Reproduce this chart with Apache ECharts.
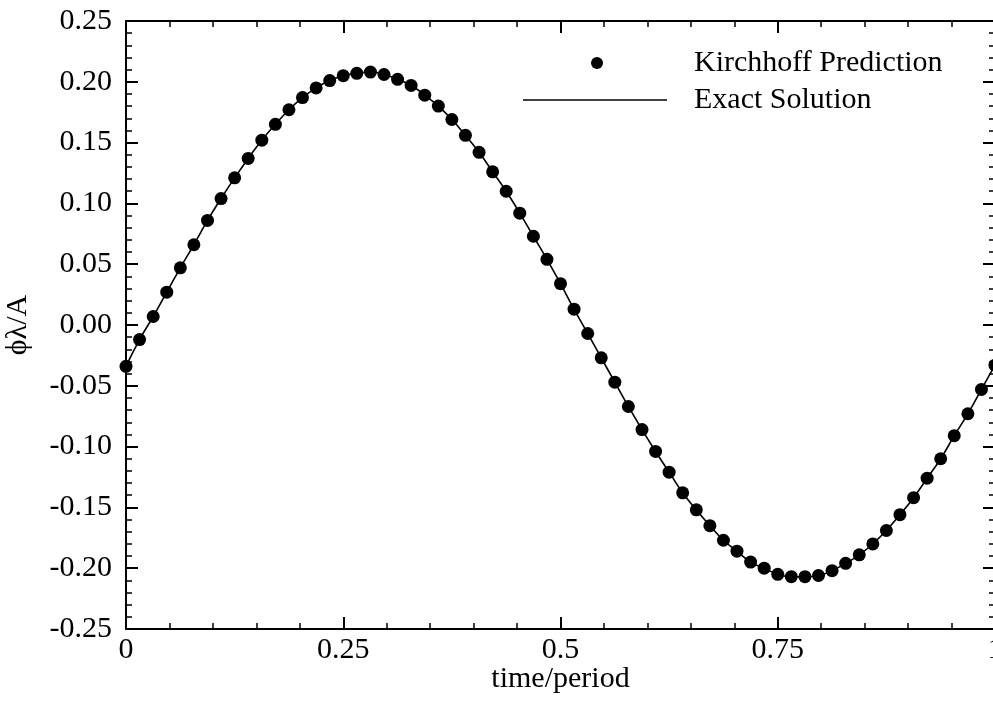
<!DOCTYPE html>
<html>
<head>
<meta charset="utf-8">
<script src="https://cdn.jsdelivr.net/npm/echarts@6/dist/echarts.min.js"></script>
<style>
html,body{margin:0;padding:0;background:#fff;}
#chart{width:993px;height:707px;}
</style>
</head>
<body>
<div id="chart"></div>
<script>
// time/period sample instants
const timeValues = [0, 0.0156, 0.0313, 0.0469, 0.0625, 0.0781, 0.0938, 0.1094, 0.125, 0.1406,
  0.1563, 0.1719, 0.1875, 0.2031, 0.2188, 0.2344, 0.25, 0.2656, 0.2813, 0.2969,
  0.3125, 0.3281, 0.3438, 0.3594, 0.375, 0.3906, 0.4063, 0.4219, 0.4375, 0.4531,
  0.4688, 0.4844, 0.5, 0.5156, 0.5313, 0.5469, 0.5625, 0.5781, 0.5938, 0.6094,
  0.625, 0.6406, 0.6563, 0.6719, 0.6875, 0.7031, 0.7188, 0.7344, 0.75, 0.7656,
  0.7813, 0.7969, 0.8125, 0.8281, 0.8438, 0.8594, 0.875, 0.8906, 0.9063, 0.9219,
  0.9375, 0.9531, 0.9688, 0.9844, 1];

// Kirchhoff prediction (markers)
const kirchhoffValues = [-0.034, -0.012, 0.007, 0.027, 0.047, 0.066, 0.086, 0.104, 0.121, 0.137,
  0.152, 0.165, 0.177, 0.187, 0.195, 0.201, 0.205, 0.207, 0.208, 0.206,
  0.202, 0.197, 0.189, 0.180, 0.169, 0.156, 0.142, 0.126, 0.110, 0.092,
  0.073, 0.054, 0.034, 0.013, -0.007, -0.027, -0.047, -0.067, -0.086, -0.104,
  -0.121, -0.138, -0.152, -0.165, -0.177, -0.186, -0.195, -0.200, -0.205, -0.207,
  -0.207, -0.206, -0.202, -0.196, -0.189, -0.180, -0.169, -0.156, -0.142, -0.126,
  -0.110, -0.091, -0.073, -0.053, -0.033];

// Exact solution (line passes through the marker centres)
const exactValues = [-0.034, -0.012, 0.007, 0.027, 0.047, 0.066, 0.086, 0.104, 0.121, 0.137,
  0.152, 0.165, 0.177, 0.187, 0.195, 0.201, 0.205, 0.207, 0.208, 0.206,
  0.202, 0.197, 0.189, 0.180, 0.169, 0.156, 0.142, 0.126, 0.110, 0.092,
  0.073, 0.054, 0.034, 0.013, -0.007, -0.027, -0.047, -0.067, -0.086, -0.104,
  -0.121, -0.138, -0.152, -0.165, -0.177, -0.186, -0.195, -0.200, -0.205, -0.207,
  -0.207, -0.206, -0.202, -0.196, -0.189, -0.180, -0.169, -0.156, -0.142, -0.126,
  -0.110, -0.091, -0.073, -0.053, -0.033];

const seriesNames = ['Kirchhoff Prediction', 'Exact Solution'];
const xAxisTitle = 'time/period';
const yAxisTitle = 'ϕλ/A';

const FONT = 'Liberation Serif';
const chart = echarts.init(document.getElementById('chart'), null, {renderer: 'canvas'});

function pairs(xs, ys) { return xs.map((x, i) => [x, ys[i]]); }

const axisLine = {show: true, onZero: false, lineStyle: {color: '#000', width: 2}};
const tick = {show: true, inside: true, length: 12, lineStyle: {color: '#000', width: 2}};
const minor = {show: true, splitNumber: 5, length: 6, lineStyle: {color: '#000', width: 1.5}};

const xFmt = v => String(+v.toFixed(2));
const yFmt = v => v.toFixed(2);

chart.setOption({
  backgroundColor: '#fff',
  animation: false,
  grid: {left: 126, right: -2, top: 21, bottom: 78, containLabel: false, outerBoundsMode: 'none'},
  legend: [
    {
      data: [{name: seriesNames[0], icon: 'circle'}], left: 591, top: 48, padding: 0, selectedMode: false,
      itemWidth: 12, itemHeight: 12,
      itemStyle: {color: '#000', opacity: 1},
      textStyle: {fontFamily: FONT, fontSize: 30, color: '#000', lineHeight: 30, padding: [0, 0, 0, 86]}
    },
    {
      data: [{name: seriesNames[1], icon: 'path://M0,0H144V1.6H0Z'}], left: 523, top: 85, padding: 0, selectedMode: false,
      itemWidth: 144, itemHeight: 12,
      itemStyle: {color: '#000'},
      textStyle: {fontFamily: FONT, fontSize: 30, color: '#000', lineHeight: 30, padding: [0, 0, 0, 22]}
    }
  ],
  xAxis: [
    {
      type: 'value', min: 0, max: 1, interval: 0.25, position: 'bottom',
      axisLine, axisTick: tick, minorTick: minor, splitLine: {show: false}, minorSplitLine: {show: false},
      axisLabel: {formatter: xFmt, fontFamily: FONT, fontSize: 30, color: '#000', margin: 6},
      name: xAxisTitle, nameLocation: 'middle', nameGap: 35, nameMoveOverlap: false,
      nameTextStyle: {fontFamily: FONT, fontSize: 30, color: '#000'}
    },
    {
      type: 'value', min: 0, max: 1, interval: 0.25, position: 'top',
      axisLine, axisTick: tick, minorTick: minor, splitLine: {show: false},
      axisLabel: {show: false}
    }
  ],
  yAxis: [
    {
      type: 'value', min: -0.25, max: 0.25, interval: 0.05, position: 'left',
      axisLine, axisTick: tick, minorTick: minor, splitLine: {show: false},
      axisLabel: {formatter: yFmt, fontFamily: FONT, fontSize: 30, color: '#000', margin: 14},
      name: yAxisTitle, nameLocation: 'middle', nameGap: 93, nameRotate: 90, nameMoveOverlap: false,
      nameTextStyle: {fontFamily: FONT, fontSize: 30, color: '#000'}
    },
    {
      type: 'value', min: -0.25, max: 0.25, interval: 0.05, position: 'right',
      axisLine, axisTick: tick, minorTick: minor, splitLine: {show: false},
      axisLabel: {show: false}
    }
  ],
  series: [
    {
      name: seriesNames[1], type: 'line', xAxisIndex: 0, yAxisIndex: 0,
      data: pairs(timeValues, exactValues), smooth: true, symbol: 'none',
      lineStyle: {color: '#000', width: 1.6}, itemStyle: {color: '#000'}, z: 2, clip: false
    },
    {
      name: seriesNames[0], type: 'scatter', xAxisIndex: 0, yAxisIndex: 0,
      data: pairs(timeValues, kirchhoffValues), symbol: 'circle', symbolSize: 13,
      itemStyle: {color: '#000', opacity: 1}, z: 3, clip: false
    }
  ]
});
</script>
</body>
</html>
